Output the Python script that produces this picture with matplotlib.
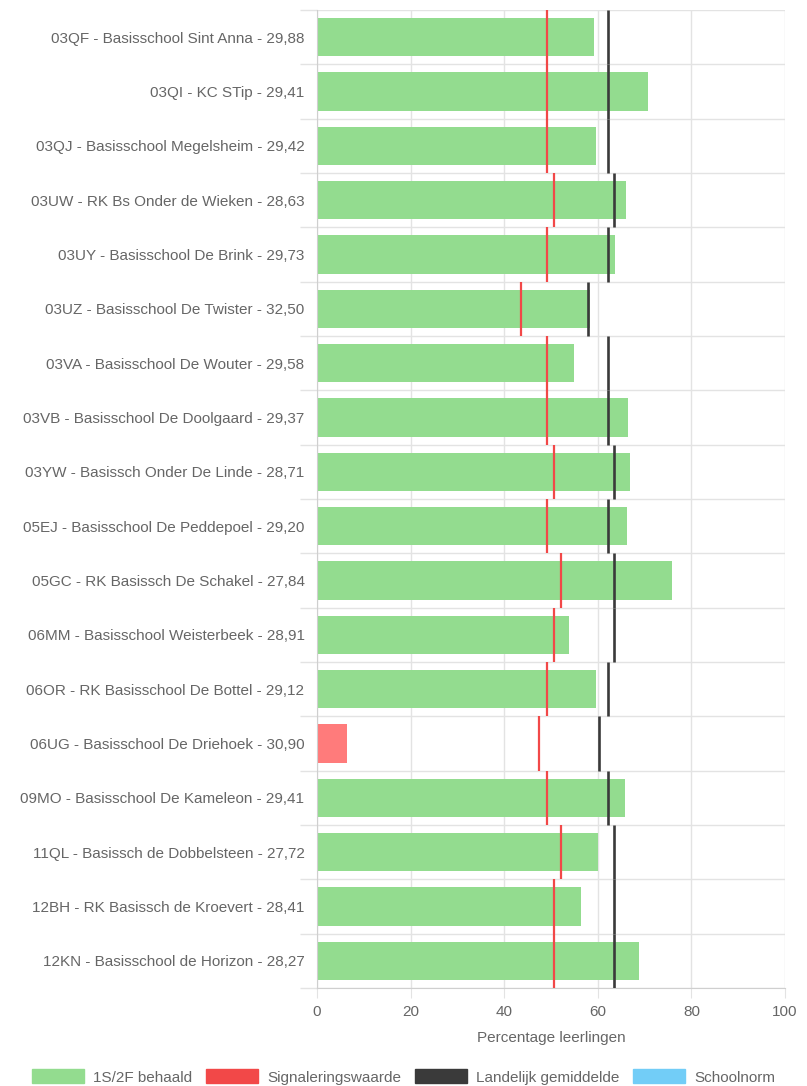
import matplotlib.pyplot as plt
from matplotlib.patches import Patch

plt.rcParams['font.family'] = ['Liberation Sans', 'DejaVu Sans']

schools = [
    "03QF - Basisschool Sint Anna - 29,88",
    "03QI - KC STip - 29,41",
    "03QJ - Basisschool Megelsheim - 29,42",
    "03UW - RK Bs Onder de Wieken - 28,63",
    "03UY - Basisschool De Brink - 29,73",
    "03UZ - Basisschool De Twister - 32,50",
    "03VA - Basisschool De Wouter - 29,58",
    "03VB - Basisschool De Doolgaard - 29,37",
    "03YW - Basissch Onder De Linde - 28,71",
    "05EJ - Basisschool De Peddepoel - 29,20",
    "05GC - RK Basissch De Schakel - 27,84",
    "06MM - Basisschool Weisterbeek - 28,91",
    "06OR - RK Basisschool De Bottel - 29,12",
    "06UG - Basisschool De Driehoek - 30,90",
    "09MO - Basisschool De Kameleon - 29,41",
    "11QL - Basissch de Dobbelsteen - 27,72",
    "12BH - RK Basissch de Kroevert - 28,41",
    "12KN - Basisschool de Horizon - 28,27",
]
behaald = [59.1, 70.8, 59.6, 66.0, 63.7, 58.4, 55.0, 66.5, 66.8,
           66.3, 75.9, 53.9, 59.7, 6.4, 65.8, 60.1, 56.4, 68.8]
signalering = [49.1, 49.1, 49.1, 50.7, 49.1, 43.6, 49.1, 49.1, 50.7,
               49.1, 52.2, 50.7, 49.1, 47.4, 49.1, 52.2, 50.7, 50.7]
landelijk = [62.1, 62.1, 62.1, 63.5, 62.1, 58.0, 62.1, 62.1, 63.5,
             62.1, 63.5, 63.5, 62.1, 60.3, 62.1, 63.5, 63.5, 63.5]

green = '#93dc8f'
red_bar = '#ff7b7b'
red = '#f24848'
black = '#3a3a3a'
blue = '#72cdf7'
txt = '#666666'
grid = '#e3e3e3'
fs = 11

fig = plt.figure(figsize=(8.07, 10.86), dpi=100)
ax = fig.add_axes([317/807, 1-988/1086, 468/807, 978/1086])

n = len(schools)
ypos = list(range(n))
cols = [green if b >= s else red_bar for b, s in zip(behaald, signalering)]
ax.barh(ypos, behaald, height=0.7, color=cols, zorder=2)
for i in ypos:
    ax.vlines(signalering[i], i-0.5, i+0.5, color=red, lw=1.6, zorder=3)
    ax.vlines(landelijk[i], i-0.5, i+0.5, color=black, lw=1.9, zorder=3)

ax.set_xlim(0, 100)
ax.set_ylim(n-0.5, -0.5)
ax.set_xticks([0, 20, 40, 60, 80, 100])
ax.set_yticks(ypos)
ax.set_yticklabels(schools)
ax.set_yticks([k-0.5 for k in range(n+1)], minor=True)
ax.tick_params(axis='y', which='major', length=0, pad=9, labelsize=fs, labelcolor=txt)
ax.tick_params(axis='y', which='minor', length=12, color=grid, width=1)
ax.tick_params(axis='x', length=7, color=grid, labelsize=fs, labelcolor=txt, pad=5)
ax.grid(True, which='minor', axis='y', color=grid, lw=1, zorder=0)
ax.grid(True, which='major', axis='x', color=grid, lw=1, zorder=0)
for side in ['top', 'right']:
    ax.spines[side].set_visible(False)
ax.spines['left'].set_color('#cfcfcf')
ax.spines['bottom'].set_color('#cfcfcf')
ax.set_xlabel('Percentage leerlingen', color=txt, fontsize=fs, labelpad=9)

handles = [Patch(color=green), Patch(color=red), Patch(color=black), Patch(color=blue)]
labels = ['1S/2F behaald', 'Signaleringswaarde', 'Landelijk gemiddelde', 'Schoolnorm']
leg = fig.legend(handles, labels, loc='center', bbox_to_anchor=(0.5, 1-1077/1086), ncol=4,
                 frameon=False, fontsize=fs, handlelength=3.4, handleheight=1.0,
                 handletextpad=0.6, columnspacing=0.9)
for t in leg.get_texts():
    t.set_color(txt)

plt.savefig('out.png', dpi=100)
